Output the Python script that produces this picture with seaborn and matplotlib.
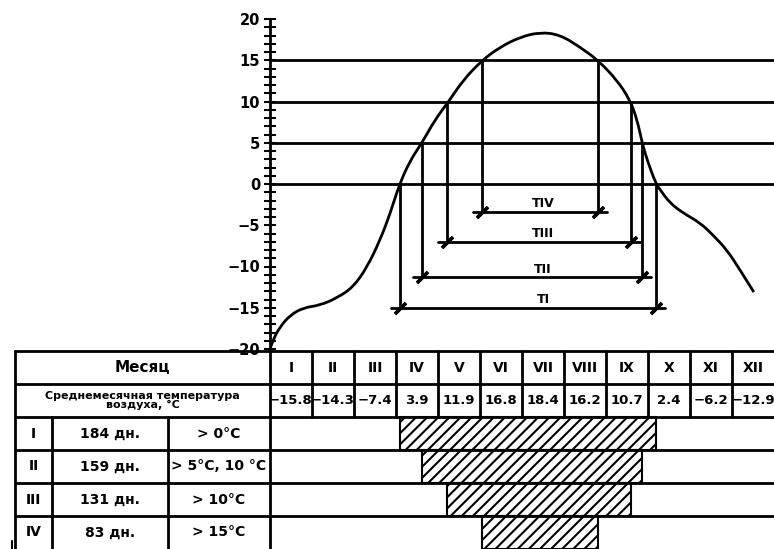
import numpy as np
import pandas as pd
import matplotlib.pyplot as plt
import seaborn as sns
from matplotlib.path import Path
from matplotlib.patches import PathPatch

sns.set_style('white')
plt.rcParams['font.family'] = ['DejaVu Sans']
plt.rcParams['text.color'] = 'black'
plt.rcParams['ytick.color'] = 'black'
plt.rcParams['hatch.linewidth'] = 1.5

# data
months = ['I', 'II', 'III', 'IV', 'V', 'VI', 'VII', 'VIII', 'IX', 'X', 'XI', 'XII']
mean_temp = [-15.8, -14.3, -7.4, 3.9, 11.9, 16.8, 18.4, 16.2, 10.7, 2.4, -6.2, -12.9]

# hand-drawn annual curve (x in months from 1 Jan, temperature in °C)
curve_month = [0.0, 0.07, 0.24, 0.48, 0.79, 1.19, 1.6, 1.98, 2.31, 2.62, 2.86, 3.07,
               3.33, 3.62, 3.93, 4.24, 4.6, 5.05, 5.48, 5.95, 6.43, 6.9, 7.38, 7.81,
               8.26, 8.57, 8.74, 8.86, 8.98, 9.19, 9.29, 9.52, 9.83, 10.24, 10.55,
               10.88, 11.19, 11.52]
curve_temp = [-20.0, -18.9, -17.3, -15.9, -15.0, -14.7, -13.8, -12.5, -10.1, -6.8, -3.6, -0.2,
              2.8, 5.0, 7.8, 9.9, 12.6, 15.0, 16.6, 17.8, 18.4, 18.1, 16.6, 15.0,
              12.6, 10.2, 7.8, 5.0, 2.9, 0.0, -0.7, -2.3, -3.5, -4.7, -6.2,
              -8.0, -10.4, -13.1]

periods = ['I', 'II', 'III', 'IV']
period_labels = ['TI', 'TII', 'TIII', 'TIV']
period_days = ['184 дн.', '159 дн.', '131 дн.', '83 дн.']
period_cond = ['> 0°C', '> 5°C, 10 °C', '> 10°C', '> 15°C']
thresholds = [0, 5, 10, 15]
period_start = [3.1, 3.62, 4.22, 5.05]
period_end = [9.19, 8.86, 8.6, 7.81]
bracket_temp = [-15.0, -11.3, -7.0, -3.4]

fig = plt.figure(figsize=(7.74, 5.49), dpi=100)

# ---- graph ----
ax = fig.add_axes([270 / 774, 1 - 349 / 549, 504 / 774, 330 / 549])
curve = pd.DataFrame({'month': curve_month, 'temp': curve_temp})
# invisible seaborn line sets up the axes, smooth path drawn on top
sns.lineplot(data=curve, x='month', y='temp', color='black', lw=0, sort=False, ax=ax)

pts = curve[['month', 'temp']].to_numpy()
verts = [pts[0]]
codes = [Path.MOVETO]
for i in range(1, len(pts) - 1):
    end = pts[i + 1] if i == len(pts) - 2 else (pts[i] + pts[i + 1]) / 2
    verts += [pts[i], end]
    codes += [Path.CURVE3, Path.CURVE3]
ax.add_patch(PathPatch(Path(verts, codes), facecolor='none', edgecolor='black', lw=2))

for t in thresholds:
    ax.axhline(t, color='black', lw=2)

for s, e, t, b, lab in zip(period_start, period_end, thresholds, bracket_temp, period_labels):
    ax.plot([s, s], [t, b], color='black', lw=2)
    ax.plot([e, e], [t, b], color='black', lw=2)
    ax.plot([s - 0.22, e + 0.22], [b, b], color='black', lw=2)
    ax.plot([s, e], [b, b], ls='none', marker=(2, 2, -45), ms=11, mew=2.5, color='black')
    ax.text(6.5, b + 0.2, lab, ha='center', va='bottom', fontsize=9, fontweight='bold')

ax.set_xlim(0, 12)
ax.set_ylim(-20, 20)
ax.set_xticks([])
ax.set_xlabel('')
ax.set_ylabel('')
ax.set_yticks(range(-20, 21, 5))
ax.set_yticks(range(-20, 21), minor=True)
ax.tick_params(axis='y', which='both', direction='inout', length=8, width=1.5,
               left=True, pad=3, labelsize=10.5)
for lbl in ax.get_yticklabels():
    lbl.set_fontweight('bold')
for side in ['top', 'right', 'bottom']:
    ax.spines[side].set_visible(False)
ax.spines['left'].set_linewidth(2)
ax.spines['left'].set_color('black')

# ---- table ----
tax = fig.add_axes([0, 0, 1, 198 / 549])
tax.set_xlim(-270 / 42, 12)
tax.set_ylim(6, 0)
tax.axis('off')

x_left, x_num, x_days = -6.07, -5.19, -2.43
kw = dict(color='black', lw=2, clip_on=False)
for r in range(6):
    tax.plot([x_left, 12], [r, r], **kw)
tax.plot([x_left, x_left], [0, 6], **kw)
tax.plot([0, 0], [0, 6], **kw)
tax.plot([x_num, x_num], [2, 6], **kw)
tax.plot([x_days, x_days], [2, 6], **kw)
for i in range(1, 12):
    tax.plot([i, i], [0, 2], **kw)

tax.text((x_left + 0) / 2, 0.5, 'Месяц', ha='center', va='center', fontsize=11, fontweight='bold')
tax.text((x_left + 0) / 2, 1.5, 'Среднемесячная температура\nвоздуха, °C', ha='center',
         va='center', fontsize=8, fontweight='bold', linespacing=0.95)
for i, (m, v) in enumerate(zip(months, mean_temp)):
    tax.text(i + 0.5, 0.5, m, ha='center', va='center', fontsize=10, fontweight='bold')
    tax.text(i + 0.5, 1.5, f'{v:.1f}'.replace('-', '−'), ha='center', va='center',
             fontsize=9.5, fontweight='bold')

for k, (p, d, c) in enumerate(zip(periods, period_days, period_cond)):
    y = 2.5 + k
    tax.text((x_left + x_num) / 2, y, p, ha='center', va='center', fontsize=10, fontweight='bold')
    tax.text((x_num + x_days) / 2, y, d, ha='center', va='center', fontsize=10, fontweight='bold')
    tax.text((x_days + 0) / 2, y, c, ha='center', va='center', fontsize=10, fontweight='bold')

widths = np.array(period_end) - np.array(period_start)
tax.barh([2.5, 3.5, 4.5, 5.5], widths, left=period_start, height=1.0, color='white',
         edgecolor='black', hatch='///', lw=1.5)

# small stray mark at the lower left corner
tax.plot([-6.14, -6.14], [5.75, 6.0], color='black', lw=1.5)

fig.savefig('out.png', dpi=100)
